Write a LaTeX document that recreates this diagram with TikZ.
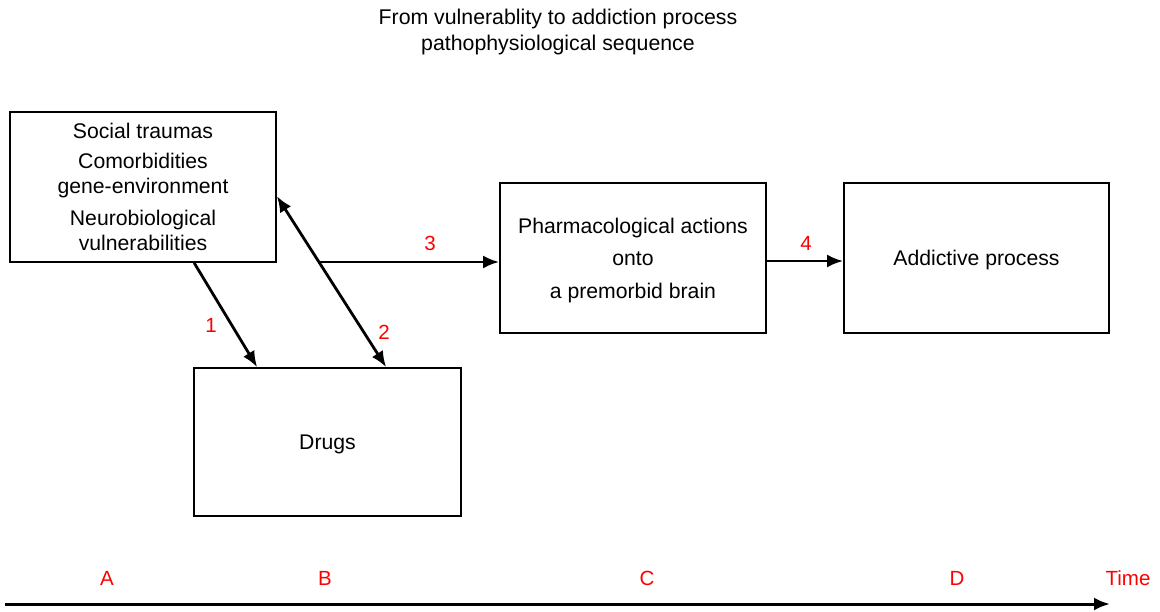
\documentclass[tikz,border=0pt]{standalone}
\usepackage{fontspec}
\setmainfont{Liberation Sans}
\usetikzlibrary{arrows.meta,calc}
\begin{document}
\begin{tikzpicture}[x=1pt,y=-1pt,
  box/.style={draw,line width=1.7pt,inner sep=0pt,align=center,font=\fontsize{21.2}{25.5}\selectfont},
  conn/.style={line width=2.8pt,-{Latex[length=16pt,width=13pt]}},
  num/.style={text=red,font=\fontsize{20.5}{22}\selectfont,inner sep=0pt},
  ttl/.style={font=\fontsize{21.3}{26}\selectfont,align=center,inner sep=0pt}]
\useasboundingbox (0,0) rectangle (1160,611);
\node[ttl] (title) at (558,32) {From vulnerablity to addiction process\\pathophysiological sequence};
\node[box,minimum width=266pt,minimum height=150pt] (vuln) at (143,187)
  {Social traumas\\[4pt]Comorbidities\\gene-environment\\[6pt]Neurobiological\\vulnerabilities};
\node[box,minimum width=267pt,minimum height=148pt] (drugs) at (327.5,442) {\raisebox{-2.3pt}[\height][\depth]{Drugs}};
\node[box,minimum width=266pt,minimum height=150pt,font=\fontsize{21.2}{32.5}\selectfont] (pharm) at (633,258)
  {\raisebox{-1.2pt}[\height][\depth]{\begin{tabular}{@{}c@{}}Pharmacological actions\\onto\\a premorbid brain\end{tabular}}};
\node[box,minimum width=265pt,minimum height=150pt] (addict) at (976.5,258) {\raisebox{-2.3pt}[\height][\depth]{Addictive process}};
% connectors
\coordinate (a1s) at ([xshift=185pt]vuln.south west);
\coordinate (a1e) at ([xshift=64pt]drugs.north west);
\draw[conn] (a1s) -- (a1e);
\coordinate (a2s) at ([yshift=-85pt]vuln.north east);
\coordinate (a2e) at ([xshift=193pt]drugs.north west);
\draw[conn,{Latex[length=16pt,width=13pt]}-{Latex[length=16pt,width=13pt]}] (a2s) -- (a2e);
\coordinate (a3s) at ($(a2s)!0.385!(a2e)$);
\draw[conn] (a3s) -- (a3s -| pharm.west);
\draw[conn] ([yshift=-3pt]pharm.east) -- ([yshift=-3pt]addict.west);
\node[num] (n1) at (211,325) {1};
\node[num] (n2) at (384,332) {2};
\node[num] (n3) at (430,243) {3};
\node[num] (n4) at (806,243) {4};
% time axis
\coordinate (t0) at (5,604);
\coordinate (t1) at (1110,604);
\draw[line width=3pt,-{Latex[length=16pt,width=13pt]}] (t0) -- (t1);
\node[num] (ta) at (107,578) {A};
\node[num] (tb) at (325,578) {B};
\node[num] (tc) at (647,578) {C};
\node[num] (td) at (957,578) {D};
\node[num] (tt) at (1128,578) {Time};
\end{tikzpicture}
\end{document}
